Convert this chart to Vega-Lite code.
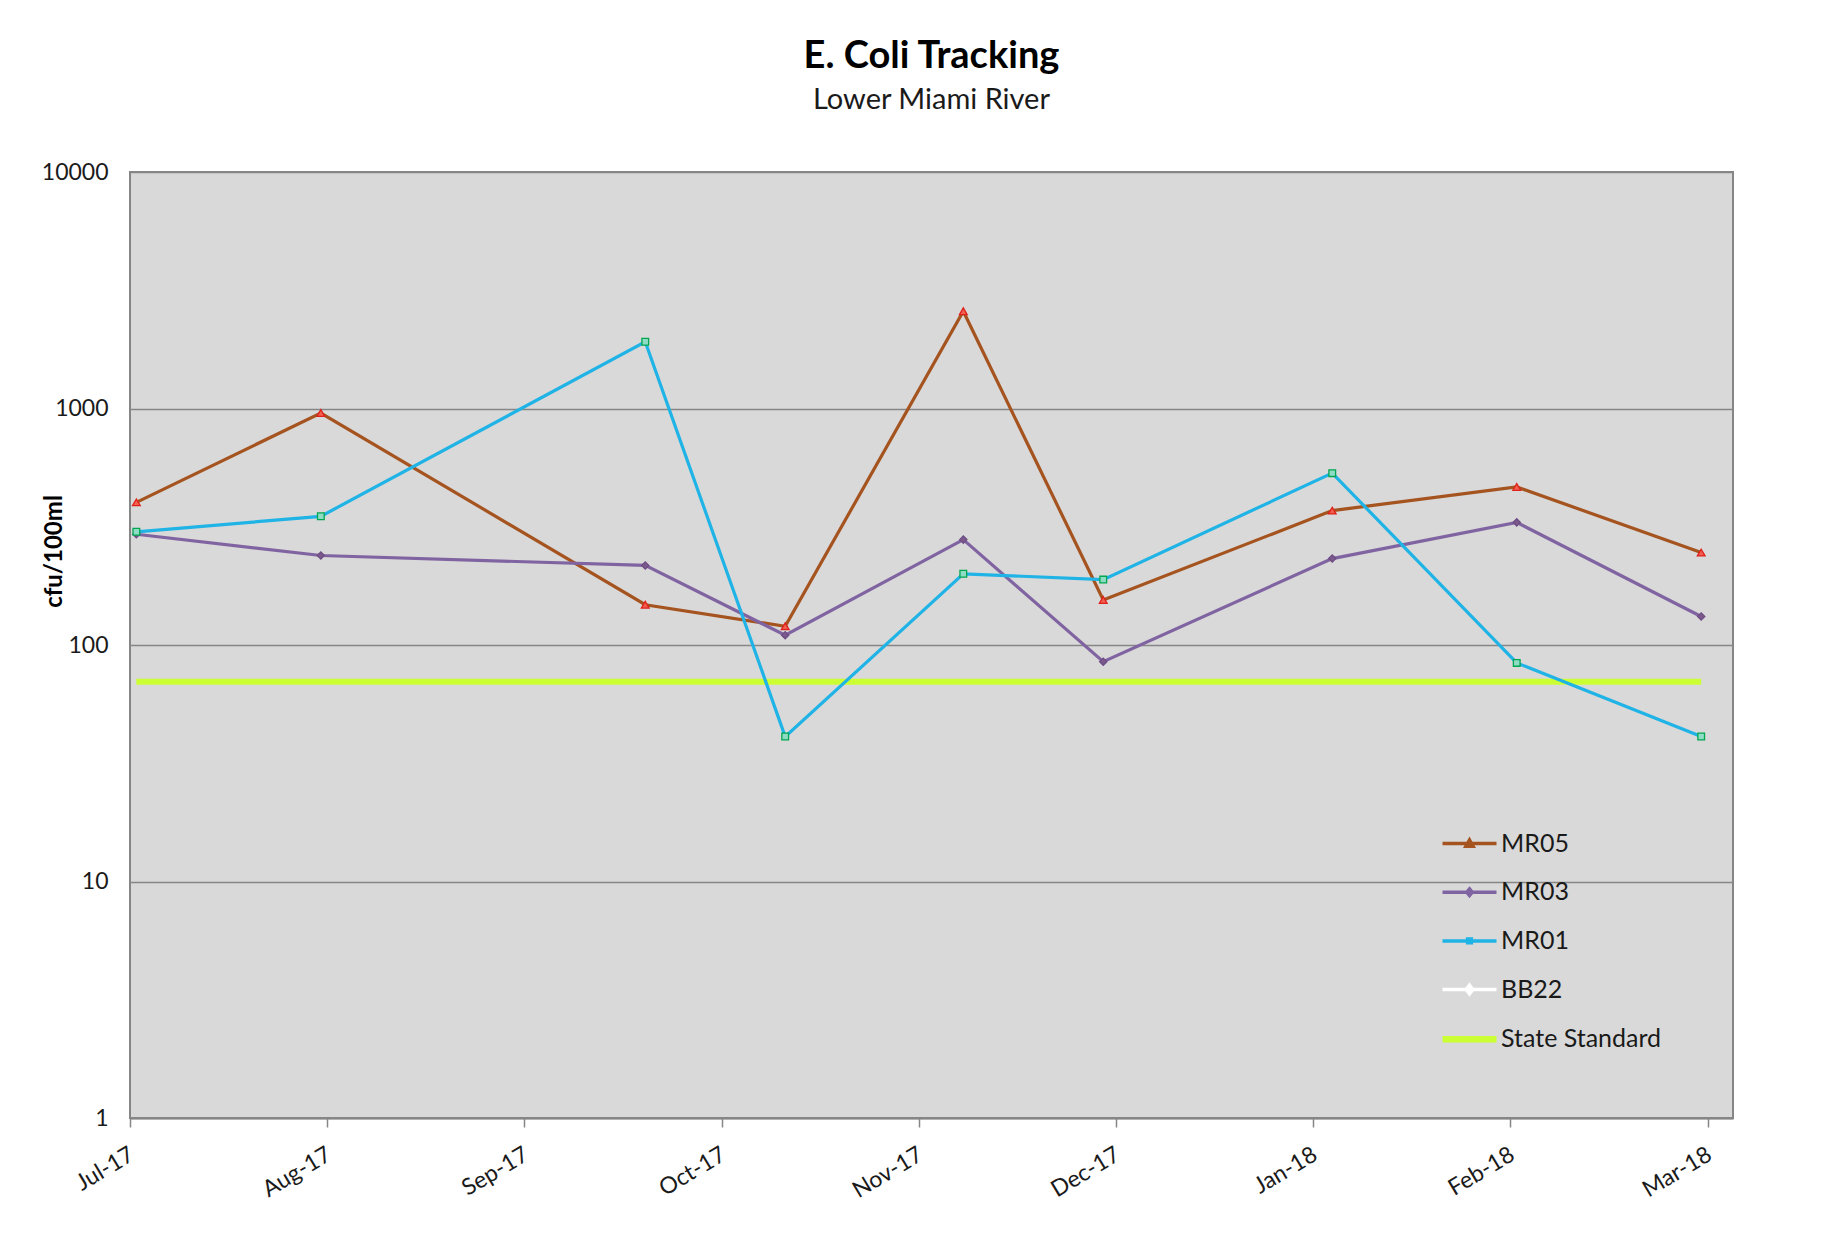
{
  "$schema": "https://vega.github.io/schema/vega-lite/v6.json",
  "width": 1603,
  "height": 946,
  "autosize": {"type": "none"},
  "padding": {"left": 130, "top": 172, "right": 103, "bottom": 133},
  "background": "white",
  "title": {
    "text": "E. Coli Tracking",
    "subtitle": "Lower Miami River",
    "anchor": "middle",
    "font": "Lato",
    "fontSize": 38,
    "fontWeight": "bold",
    "color": "#000000",
    "subtitleFont": "Lato",
    "subtitleFontSize": 29,
    "subtitleColor": "#1a1a1a",
    "subtitlePadding": 10,
    "offset": 46
  },
  "config": {
    "font": "Lato",
    "view": {"fill": "#D9D9D9", "stroke": "#868686", "strokeWidth": 2}
  },
  "data": {
    "values": [
      {"date": "2017-07-02", "series": "MR05", "value": 401},
      {"date": "2017-07-31", "series": "MR05", "value": 957},
      {"date": "2017-09-20", "series": "MR05", "value": 148},
      {"date": "2017-10-12", "series": "MR05", "value": 120},
      {"date": "2017-11-09", "series": "MR05", "value": 2577},
      {"date": "2017-12-01", "series": "MR05", "value": 155},
      {"date": "2018-01-06", "series": "MR05", "value": 370},
      {"date": "2018-02-04", "series": "MR05", "value": 466},
      {"date": "2018-03-05", "series": "MR05", "value": 246},
      {"date": "2017-07-02", "series": "MR03", "value": 294},
      {"date": "2017-07-31", "series": "MR03", "value": 239},
      {"date": "2017-09-20", "series": "MR03", "value": 217},
      {"date": "2017-10-12", "series": "MR03", "value": 110},
      {"date": "2017-11-09", "series": "MR03", "value": 279},
      {"date": "2017-12-01", "series": "MR03", "value": 85},
      {"date": "2018-01-06", "series": "MR03", "value": 232},
      {"date": "2018-02-04", "series": "MR03", "value": 330},
      {"date": "2018-03-05", "series": "MR03", "value": 132},
      {"date": "2017-07-02", "series": "MR01", "value": 301},
      {"date": "2017-07-31", "series": "MR01", "value": 350},
      {"date": "2017-09-20", "series": "MR01", "value": 1914},
      {"date": "2017-10-12", "series": "MR01", "value": 41},
      {"date": "2017-11-09", "series": "MR01", "value": 200},
      {"date": "2017-12-01", "series": "MR01", "value": 189},
      {"date": "2018-01-06", "series": "MR01", "value": 533},
      {"date": "2018-02-04", "series": "MR01", "value": 84},
      {"date": "2018-03-05", "series": "MR01", "value": 41},
      {"date": "2017-07-02", "series": "State Standard", "value": 70},
      {"date": "2017-07-31", "series": "State Standard", "value": 70},
      {"date": "2017-09-20", "series": "State Standard", "value": 70},
      {"date": "2017-10-12", "series": "State Standard", "value": 70},
      {"date": "2017-11-09", "series": "State Standard", "value": 70},
      {"date": "2017-12-01", "series": "State Standard", "value": 70},
      {"date": "2018-01-06", "series": "State Standard", "value": 70},
      {"date": "2018-02-04", "series": "State Standard", "value": 70},
      {"date": "2018-03-05", "series": "State Standard", "value": 70}
    ]
  },
  "encoding": {
    "x": {
      "field": "date",
      "type": "temporal",
      "scale": {
        "type": "utc",
        "domain": [
          {"year": 2017, "month": 7, "date": 1, "utc": true},
          {"year": 2018, "month": 3, "date": 10, "utc": true}
        ],
        "nice": false
      },
      "axis": {
        "values": [
          {"year": 2017, "month": 7, "date": 1, "utc": true},
          {"year": 2017, "month": 8, "date": 1, "utc": true},
          {"year": 2017, "month": 9, "date": 1, "utc": true},
          {"year": 2017, "month": 10, "date": 2, "utc": true},
          {"year": 2017, "month": 11, "date": 2, "utc": true},
          {"year": 2017, "month": 12, "date": 3, "utc": true},
          {"year": 2018, "month": 1, "date": 3, "utc": true},
          {"year": 2018, "month": 2, "date": 3, "utc": true},
          {"year": 2018, "month": 3, "date": 6, "utc": true}
        ],
        "format": "%b-%y",
        "title": null,
        "grid": false,
        "labelAngle": -31,
        "labelAlign": "right",
        "labelBaseline": "top",
        "labelFont": "Lato",
        "labelFontSize": 23,
        "labelColor": "#1a1a1a",
        "labelPadding": 16,
        "labelOffset": -4,
        "labelOverlap": false,
        "labelFlush": false,
        "tickSize": 9,
        "tickColor": "#868686",
        "tickWidth": 1.5,
        "domainColor": "#868686",
        "domainWidth": 2
      }
    },
    "y": {
      "field": "value",
      "type": "quantitative",
      "scale": {"type": "log", "domain": [1, 10000], "nice": false},
      "axis": {
        "values": [1, 10, 100, 1000, 10000],
        "format": "d",
        "title": "cfu/100ml",
        "titleFont": "Lato",
        "titleFontSize": 24,
        "titleFontWeight": "bold",
        "titleColor": "#000000",
        "titleAngle": 270,
        "titleAlign": "center",
        "titleBaseline": "middle",
        "titleX": -76,
        "titleY": 379,
        "labelFont": "Lato",
        "labelFontSize": 23,
        "labelColor": "#1a1a1a",
        "labelPadding": 22,
        "labelFlush": false,
        "ticks": false,
        "domain": false,
        "gridColor": "#868686",
        "gridWidth": 1.5
      }
    }
  },
  "layer": [
    {
      "transform": [{"filter": "datum.series === 'State Standard'"}],
      "mark": {"type": "line", "strokeWidth": 6},
      "encoding": {
        "color": {
          "field": "series",
          "type": "nominal",
          "scale": {
            "domain": ["MR05", "MR03", "MR01", "BB22", "State Standard"],
            "range": ["#A5531F", "#8064A2", "#1FB3E6", "#FFFFFF", "#CCFF33"]
          },
          "legend": {
            "title": null,
            "orient": "none",
            "legendX": 1327,
            "legendY": 659,
            "padding": 0,
            "labelFont": "Lato",
            "labelFontSize": 25,
            "labelColor": "#1a1a1a",
            "labelLimit": 400,
            "labelOffset": 19,
            "rowPadding": 22.7,
            "symbolSize": 2916,
            "symbolType": "stroke",
            "symbolStrokeWidth": 3.5,
            "encode": {
              "symbols": {
                "update": {
                  "shape": {"signal": "datum.value === 'MR05' ? 'M-1,0H1M-0.13,0.1L0,-0.13L0.13,0.1Z' : datum.value === 'MR03' ? 'M-1,0H1M0,-0.12L0.1,0L0,0.12L-0.1,0Z' : datum.value === 'MR01' ? 'M-1,0H1M-0.07,-0.07H0.07V0.07H-0.07Z' : datum.value === 'BB22' ? 'M-1,0H1M0,-0.16L0.12,0L0,0.16L-0.12,0Z' : 'M-1,0H1'"},
                  "fill": {"signal": "datum.value === 'MR05' ? '#e8352a' : datum.value === 'MR03' ? '#7a5a8c' : datum.value === 'MR01' ? '#2aa86b' : datum.value === 'BB22' ? '#f3f36a' : 'transparent'"},
                  "strokeWidth": {"signal": "datum.value === 'State Standard' ? 6.5 : 3.5"}
                }
              }
            }
          }
        }
      }
    },
    {
      "transform": [{"filter": "datum.series !== 'State Standard'"}],
      "mark": {"type": "line", "strokeWidth": 3.2},
      "encoding": {
        "color": {"field": "series", "type": "nominal"}
      }
    },
    {
      "transform": [{"filter": "datum.series !== 'State Standard'"}],
      "mark": {"type": "point", "filled": true, "opacity": 1, "strokeWidth": 1.3},
      "encoding": {
        "shape": {
          "field": "series",
          "type": "nominal",
          "scale": {"domain": ["MR05", "MR03", "MR01"], "range": ["triangle-up", "diamond", "square"]},
          "legend": null
        },
        "fill": {
          "field": "series",
          "type": "nominal",
          "scale": {"domain": ["MR05", "MR03", "MR01"], "range": ["#f0604f", "#7a5a8c", "#8fdcc4"]},
          "legend": null
        },
        "stroke": {
          "field": "series",
          "type": "nominal",
          "scale": {"domain": ["MR05", "MR03", "MR01"], "range": ["#e0211b", "#6f4d84", "#00a651"]},
          "legend": null
        },
        "size": {
          "field": "series",
          "type": "nominal",
          "scale": {"domain": ["MR05", "MR03", "MR01"], "range": [60, 45, 25]},
          "legend": null
        }
      }
    }
  ]
}
